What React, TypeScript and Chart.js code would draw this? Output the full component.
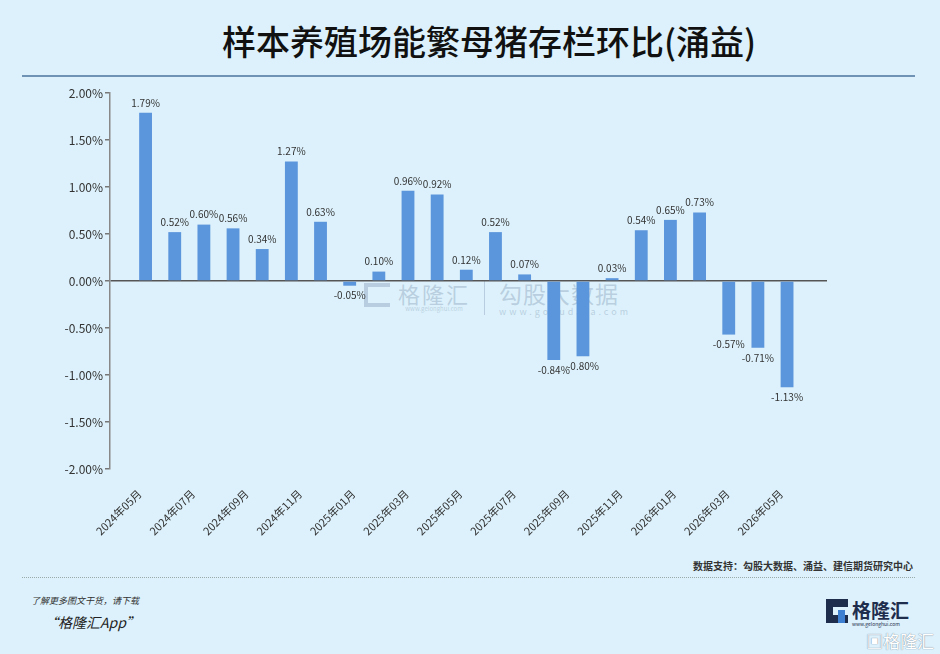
import React, { useEffect, useRef } from "react";
import { Chart, registerables } from "chart.js";

Chart.register(...registerables);

const tickLabels = [
  "2024年05月", "2024年07月", "2024年09月", "2024年11月",
  "2025年01月", "2025年03月", "2025年05月", "2025年07月",
  "2025年09月", "2025年11月", "2026年01月", "2026年03月", "2026年05月",
];

const values = [
  1.79, 0.52, 0.60, 0.56, 0.34, 1.27, 0.63, -0.05, 0.10, 0.96, 0.92, 0.12,
  0.52, 0.07, -0.84, -0.80, 0.03, 0.54, 0.65, 0.73, -0.57, -0.71, -1.13,
];

const yTicks = [2, 1.5, 1, 0.5, 0, -0.5, -1, -1.5, -2];

const BG = "#dcf1fb";
const BAR = "#5b95dc";
const FONT = "'Noto Sans CJK SC', 'Noto Sans', sans-serif";

const labelPlugin = {
  id: "barValueLabels",
  afterDatasetsDraw(chart: any) {
    const ctx = chart.ctx;
    const meta = chart.getDatasetMeta(0);
    ctx.save();
    ctx.font = `10px ${FONT}`;
    ctx.fillStyle = "#333";
    ctx.textAlign = "center";
    ctx.textBaseline = "middle";
    meta.data.forEach((el: any, i: number) => {
      const v = values[i];
      const y = v >= 0 ? el.y - 10 : el.y + 10;
      ctx.fillText(v.toFixed(2) + "%", el.x, y);
    });
    ctx.restore();
  },
};

function BarChart() {
  const ref = useRef<HTMLCanvasElement | null>(null);
  useEffect(() => {
    if (!ref.current) return;
    const last = values.length - 1;
    const chart = new Chart(ref.current, {
      type: "bar",
      data: {
        datasets: [
          {
            data: values.map((v, i) => ({ x: i, y: v })),
            backgroundColor: BAR,
            borderWidth: 0,
            barPercentage: 0.44,
            categoryPercentage: 1,
          },
        ],
      },
      options: {
        responsive: false,
        animation: false,
        maintainAspectRatio: false,
        layout: { padding: { top: 13, right: 113, bottom: 0, left: 0 } },
        plugins: {
          legend: { display: false },
          tooltip: { enabled: false },
          title: { display: false },
        },
        scales: {
          x: {
            type: "linear",
            min: -1.22,
            max: last + 1.37,
            offset: false,
            grid: { display: false, offset: false },
            border: { display: false },
            afterBuildTicks: (axis: any) => {
              const n = tickLabels.length - 1;
              axis.ticks = tickLabels.map((_, i) => ({ value: (i * last) / n }));
            },
            afterFit: (axis: any) => {
              axis.height = 91;
            },
            ticks: {
              autoSkip: false,
              maxRotation: 45,
              minRotation: 45,
              padding: 10,
              labelOffset: -6,
              color: "#333",
              font: { size: 11, family: FONT },
              callback: (_v: any, idx: number) => tickLabels[idx],
            },
          },
          y: {
            type: "linear",
            min: -2,
            max: 2,
            afterBuildTicks: (axis: any) => {
              axis.ticks = yTicks.map((v) => ({ value: v }));
            },
            afterFit: (axis: any) => {
              axis.width = 110;
            },
            grid: {
              display: true,
              drawOnChartArea: true,
              drawTicks: true,
              tickLength: 5,
              tickColor: "#777",
              lineWidth: 1.5,
              color: (c: any) => (c.tick && c.tick.value === 0 ? "#555" : "rgba(0,0,0,0)"),
            },
            border: { display: true, color: "#888", width: 1.5 },
            ticks: {
              padding: 2,
              color: "#333",
              font: { size: 12, family: FONT },
              callback: (v: any) => Number(v).toFixed(2) + "%",
            },
          },
        },
      },
      plugins: [labelPlugin],
    });
    return () => chart.destroy();
  }, []);
  return (
    <canvas
      ref={ref}
      width={940}
      height={480}
      style={{ position: "absolute", left: 0, top: 80, width: 940, height: 480, zIndex: 2 }}
    />
  );
}

export default function App() {
  useEffect(() => {
    document.body.style.margin = "0";
  }, []);
  const abs = (s: React.CSSProperties): React.CSSProperties => ({ position: "absolute", ...s });
  return (
    <div
      style={{
        position: "relative",
        width: 940,
        height: 654,
        background: BG,
        overflow: "hidden",
        fontFamily: FONT,
      }}
    >
      <div
        style={abs({
          top: 18,
          left: 222,
          fontSize: 34,
          fontWeight: 500,
          color: "#111",
          whiteSpace: "nowrap",
          lineHeight: "46px",
        })}
      >
        样本养殖场能繁母猪存栏环比(涌益)
      </div>
      <div style={abs({ top: 75, left: 22, width: 893, height: 2, background: "#6f93b5" })} />

      {/* center watermark */}
      <div style={abs({ top: 281, left: 364, zIndex: 1, color: "rgba(140,165,190,0.45)", display: "flex", alignItems: "flex-start" })}>
        <div
          style={{
            width: 26,
            height: 24,
            border: "4px solid rgba(140,165,190,0.45)",
            borderRight: "none",
            boxSizing: "border-box",
            marginTop: 2,
            marginRight: 8,
          }}
        />
        <div style={{ display: "flex", flexDirection: "column", alignItems: "center" }}>
          <div style={{ fontSize: 22, lineHeight: "24px", letterSpacing: 2 }}>格隆汇</div>
          <div style={{ fontSize: 6, lineHeight: "8px" }}>www.gelonghui.com</div>
        </div>
        <div style={{ width: 1, height: 34, background: "rgba(140,165,190,0.45)", margin: "0 14px" }} />
        <div style={{ display: "flex", flexDirection: "column" }}>
          <div style={{ fontSize: 23, lineHeight: "25px", letterSpacing: 1 }}>勾股大数据</div>
          <div style={{ fontSize: 9, lineHeight: "12px", letterSpacing: 3 }}>www.gogudata.com</div>
        </div>
      </div>

      <BarChart />

      <div
        style={abs({
          top: 559,
          right: 27,
          fontSize: 10,
          fontWeight: 700,
          color: "#333",
          whiteSpace: "nowrap",
          lineHeight: "14px",
        })}
      >
        数据支持：勾股大数据、涌益、建信期货研究中心
      </div>
      <div style={abs({ top: 577, left: 22, width: 893, height: 0, borderTop: "1px dotted #9aa" })} />

      <div style={abs({ top: 595, left: 31, fontSize: 9, fontStyle: "italic", color: "#333", lineHeight: "12px" })}>
        了解更多图文干货，请下载
      </div>
      <div style={abs({ top: 612, left: 44, fontSize: 14, fontStyle: "italic", color: "#222", lineHeight: "20px" })}>
        “格隆汇App”
      </div>

      {/* bottom-right logo */}
      <div style={abs({ top: 599, left: 826, display: "flex", alignItems: "flex-start" })}>
        <div
          style={{
            width: 22,
            height: 24,
            background: "#1f2d4d",
            position: "relative",
            marginRight: 4,
          }}
        >
          <div style={{ position: "absolute", left: 7, top: 8, width: 15, height: 8, background: BG }} />
          <div style={{ position: "absolute", left: 12, top: 11, width: 7, height: 13, background: "#3d7fd0" }} />
        </div>
        <div style={{ display: "flex", flexDirection: "column" }}>
          <div style={{ fontSize: 19, fontWeight: 700, color: "#1f2d4d", lineHeight: "22px" }}>格隆汇</div>
          <div style={{ fontSize: 5, color: "#1f2d4d", lineHeight: "6px" }}>www.gelonghui.com</div>
        </div>
      </div>
      <div
        style={abs({
          top: 631,
          left: 866,
          fontSize: 17,
          color: "#ffffff",
          lineHeight: "20px",
          whiteSpace: "nowrap",
          textShadow: "0 0 1px #8899aa, 0 0 1px #8899aa",
        })}
      >
        ▣格隆汇
      </div>
    </div>
  );
}
